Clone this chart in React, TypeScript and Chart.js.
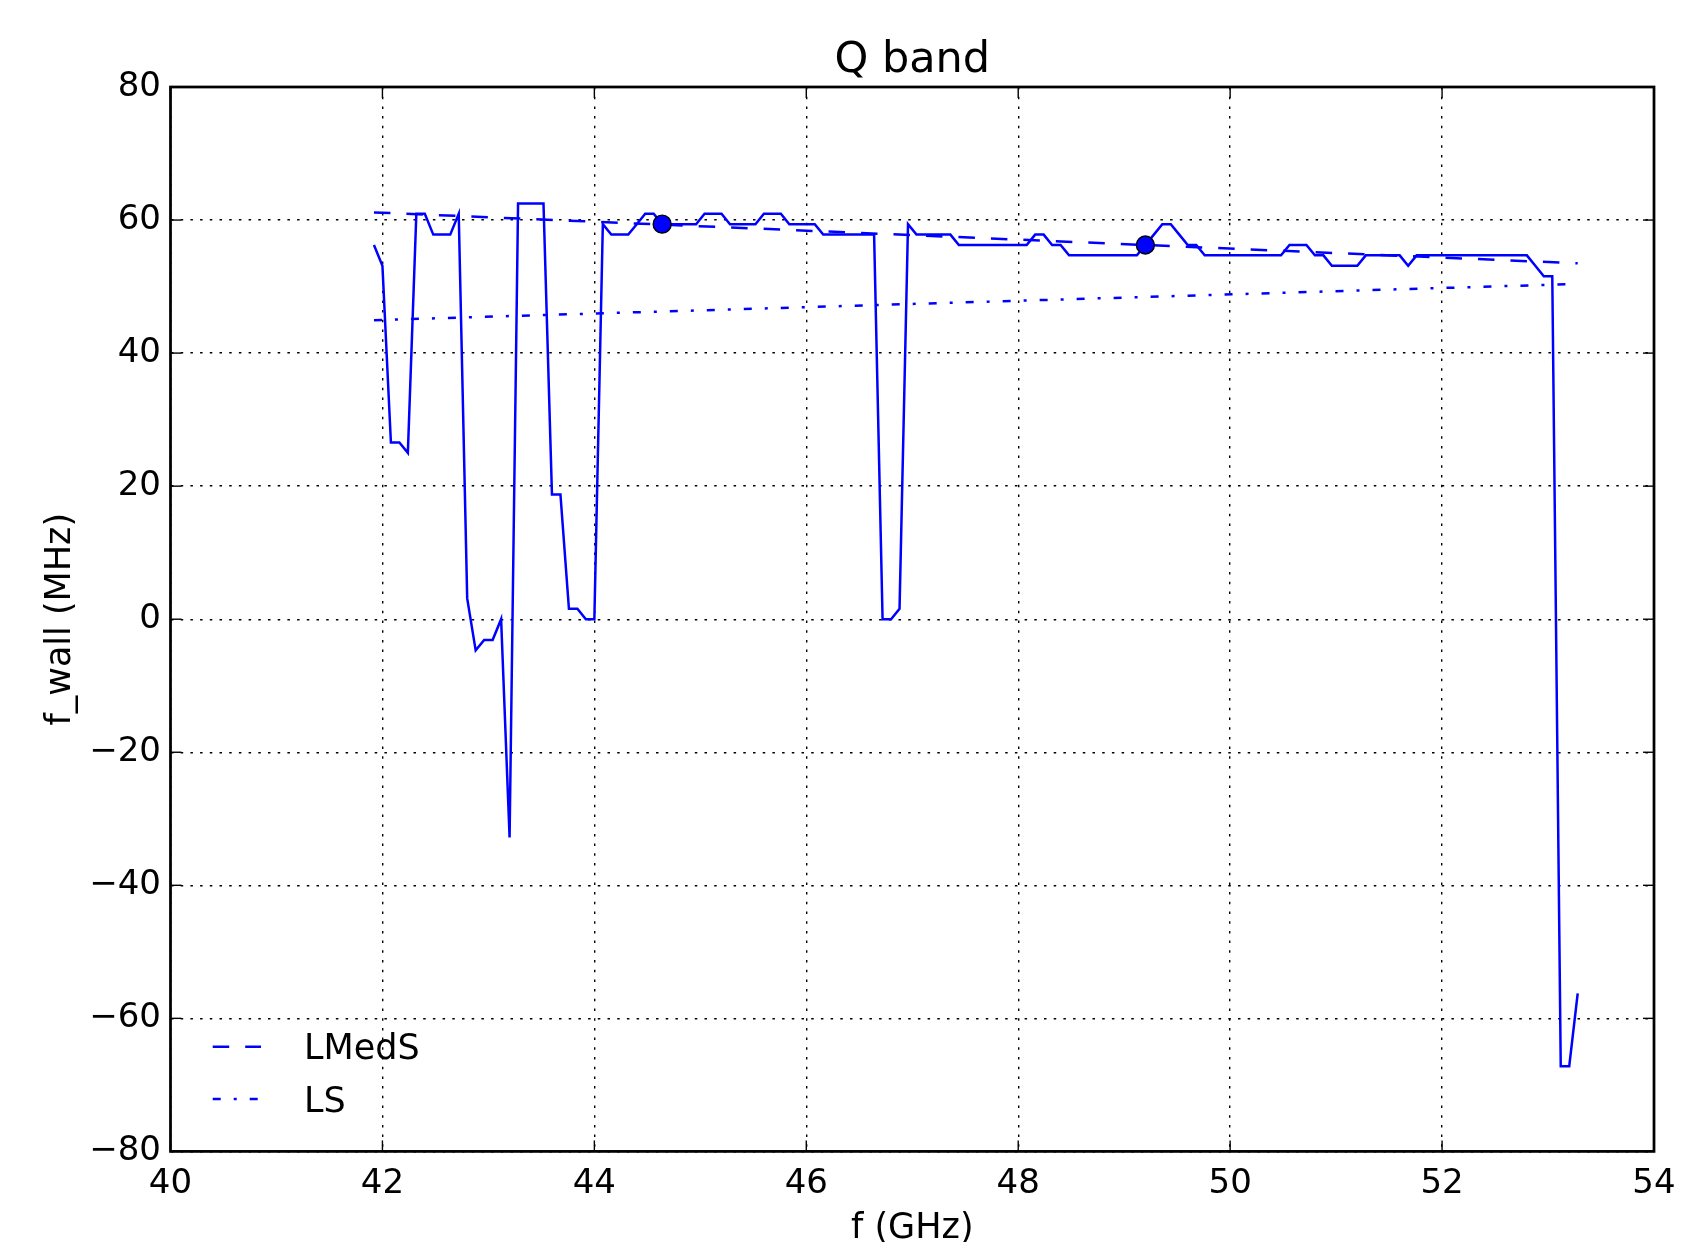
import React, { useEffect, useRef } from "react";
import { Chart, registerables } from "chart.js";

Chart.register(...registerables);

// ---------------- data ----------------
const freqGHz = [
  41.92, 42.0, 42.08, 42.16, 42.24, 42.32, 42.4, 42.48, 42.56, 42.64,
  42.72, 42.8, 42.88, 42.96, 43.04, 43.12, 43.2, 43.28, 43.36, 43.44,
  43.52, 43.6, 43.68, 43.76, 43.84, 43.92, 44.0, 44.08, 44.16, 44.24,
  44.32, 44.4, 44.48, 44.56, 44.64, 44.72, 44.8, 44.88, 44.96, 45.04,
  45.12, 45.2, 45.28, 45.36, 45.44, 45.52, 45.6, 45.68, 45.76, 45.84,
  45.92, 46.0, 46.08, 46.16, 46.24, 46.32, 46.4, 46.48, 46.56, 46.64,
  46.72, 46.8, 46.88, 46.96, 47.04, 47.12, 47.2, 47.28, 47.36, 47.44,
  47.52, 47.6, 47.68, 47.76, 47.84, 47.92, 48.0, 48.08, 48.16, 48.24,
  48.32, 48.4, 48.48, 48.56, 48.64, 48.72, 48.8, 48.88, 48.96, 49.04,
  49.12, 49.2, 49.28, 49.36, 49.44, 49.52, 49.6, 49.68, 49.76, 49.84,
  49.92, 50.0, 50.08, 50.16, 50.24, 50.32, 50.4, 50.48, 50.56, 50.64,
  50.72, 50.8, 50.88, 50.96, 51.04, 51.12, 51.2, 51.28, 51.36, 51.44,
  51.52, 51.6, 51.68, 51.76, 51.84, 51.92, 52.0, 52.08, 52.16, 52.24,
  52.32, 52.4, 52.48, 52.56, 52.64, 52.72, 52.8, 52.88, 52.96, 53.04,
  53.12, 53.2, 53.28,
];

const fWallMHz = [
  56.25, 53.13, 26.56, 26.56, 25.0, 60.94, 60.94, 57.81, 57.81, 57.81,
  60.94, 3.13, -4.69, -3.13, -3.13, 0, -32.81, 62.5, 62.5, 62.5,
  62.5, 18.75, 18.75, 1.56, 1.56, 0, 0, 59.38, 57.81, 57.81,
  57.81, 59.38, 60.94, 60.94, 59.38, 59.38, 59.38, 59.38, 59.38, 60.94,
  60.94, 60.94, 59.38, 59.38, 59.38, 59.38, 60.94, 60.94, 60.94, 59.38,
  59.38, 59.38, 59.38, 57.81, 57.81, 57.81, 57.81, 57.81, 57.81, 57.81,
  0, 0, 1.56, 59.38, 57.81, 57.81, 57.81, 57.81, 57.81, 56.25,
  56.25, 56.25, 56.25, 56.25, 56.25, 56.25, 56.25, 56.25, 57.81, 57.81,
  56.25, 56.25, 54.69, 54.69, 54.69, 54.69, 54.69, 54.69, 54.69, 54.69,
  54.69, 56.25, 57.81, 59.38, 59.38, 57.81, 56.25, 56.25, 54.69, 54.69,
  54.69, 54.69, 54.69, 54.69, 54.69, 54.69, 54.69, 54.69, 56.25, 56.25,
  56.25, 54.69, 54.69, 53.13, 53.13, 53.13, 53.13, 54.69, 54.69, 54.69,
  54.69, 54.69, 53.13, 54.69, 54.69, 54.69, 54.69, 54.69, 54.69, 54.69,
  54.69, 54.69, 54.69, 54.69, 54.69, 54.69, 54.69, 53.13, 51.56, 51.56,
  -67.19, -67.19, -56.25,
];

const markerFreqGHz = [44.64, 49.2];
const markerFWallMHz = [59.38, 56.25];

const lmedsFreqGHz = [41.92, 53.28];
const lmedsFWallMHz = [61.15, 53.5];

const lsFreqGHz = [41.92, 53.28];
const lsFWallMHz = [44.95, 50.4];

const xMin = 40;
const xMax = 54;
const xStep = 2;
const yMin = -80;
const yMax = 80;
const yStep = 20;

const titleText = "Q band";
const xLabelText = "f (GHz)";
const yLabelText = "f_wall (MHz)";
const legendLabels = ["LMedS", "LS"];

// ---------------- styling ----------------
const W = 1681;
const H = 1242;
const FONT = '"DejaVu Sans", sans-serif';
const BLUE = "#0000ff";
const TICK_FONT = 34;
const LABEL_FONT = 35;
const TITLE_FONT = 43;
const DASHED = [16.5, 16];
const DASHDOT = [8, 13, 3, 13];

const toPts = (xs: number[], ys: number[]) => xs.map((x, i) => ({ x, y: ys[i] }));
const fmt = (v: number | string) => String(v).replace("-", "\u2212");

export default function App() {
  const ref = useRef<HTMLCanvasElement>(null);

  useEffect(() => {
    document.body.style.margin = "0";
    document.body.style.overflow = "hidden";
    const canvas = ref.current;
    if (!canvas) return;

    const decor = {
      id: "decor",
      afterDraw(chart: any) {
        const { ctx, chartArea: a, scales } = chart;
        const xs = scales.x;
        const ys = scales.y;
        ctx.save();
        ctx.setLineDash([]);
        ctx.strokeStyle = "#000";
        ctx.lineWidth = 1.4;
        const seg = (x1: number, y1: number, x2: number, y2: number) => {
          ctx.beginPath();
          ctx.moveTo(x1, y1);
          ctx.lineTo(x2, y2);
          ctx.stroke();
        };
        xs.ticks.forEach((t: any) => {
          const px = xs.getPixelForValue(t.value);
          seg(px, a.bottom, px, a.bottom - 11);
          seg(px, a.top, px, a.top + 11);
        });
        ys.ticks.forEach((t: any) => {
          const py = ys.getPixelForValue(t.value);
          seg(a.left, py, a.left + 11, py);
          seg(a.right, py, a.right - 11, py);
        });
        // frame
        ctx.lineWidth = 2.75;
        ctx.strokeRect(a.left, a.top, a.right - a.left, a.bottom - a.top);

        // title and axis labels
        ctx.fillStyle = "#000";
        ctx.textAlign = "center";
        ctx.textBaseline = "alphabetic";
        ctx.font = `${TITLE_FONT}px ${FONT}`;
        const cx = (a.left + a.right) / 2;
        ctx.fillText(titleText, cx, 71.7);
        ctx.font = `${LABEL_FONT}px ${FONT}`;
        ctx.fillText(xLabelText, cx, 1238);
        ctx.save();
        ctx.translate(70, (a.top + a.bottom) / 2);
        ctx.rotate(-Math.PI / 2);
        ctx.fillText(yLabelText, 0, 0);
        ctx.restore();

        // legend (no frame)
        const rows = [
          { label: legendLabels[0], dash: DASHED, y: 1046.7, base: 1059 },
          { label: legendLabels[1], dash: DASHDOT, y: 1099, base: 1112 },
        ];
        rows.forEach((r) => {
          ctx.strokeStyle = BLUE;
          ctx.lineWidth = 2.5;
          ctx.setLineDash(r.dash);
          seg(212.7, r.y, 261, r.y);
          ctx.setLineDash([]);
          ctx.fillStyle = "#000";
          ctx.textAlign = "left";
          ctx.font = `${LABEL_FONT}px ${FONT}`;
          ctx.fillText(r.label, 304, r.base);
        });
        ctx.restore();
      },
    };

    const axisCommon = {
      type: "linear" as const,
      grid: { color: "#000", lineWidth: 1.4, drawTicks: false },
      border: { display: false, dash: [2.5, 7.2] },
    };

    const chart = new Chart(canvas, {
      type: "line",
      data: {
        datasets: [
          {
            label: "markers",
            data: toPts(markerFreqGHz, markerFWallMHz),
            showLine: false,
            pointRadius: 9,
            pointBackgroundColor: BLUE,
            pointBorderColor: "#000",
            pointBorderWidth: 1.4,
            order: 0,
          } as any,
          {
            label: "f_wall",
            data: toPts(freqGHz, fWallMHz),
            borderColor: BLUE,
            borderWidth: 2.5,
            pointRadius: 0,
            tension: 0,
            order: 1,
          },
          {
            label: legendLabels[0],
            data: toPts(lmedsFreqGHz, lmedsFWallMHz),
            borderColor: BLUE,
            borderWidth: 2.5,
            borderDash: DASHED,
            pointRadius: 0,
            order: 2,
          },
          {
            label: legendLabels[1],
            data: toPts(lsFreqGHz, lsFWallMHz),
            borderColor: BLUE,
            borderWidth: 2.5,
            borderDash: DASHDOT,
            pointRadius: 0,
            order: 3,
          },
        ],
      },
      options: {
        responsive: false,
        devicePixelRatio: 1,
        animation: false,
        events: [],
        layout: { padding: { top: 87, right: 27, left: 0, bottom: 0 } },
        plugins: {
          legend: { display: false },
          tooltip: { enabled: false },
          title: { display: false },
        },
        scales: {
          x: {
            ...axisCommon,
            min: xMin,
            max: xMax,
            ticks: {
              stepSize: xStep,
              padding: 12,
              autoSkip: false,
              maxRotation: 0,
              color: "#000",
              font: { family: FONT, size: TICK_FONT },
              callback: (v: any) => fmt(v),
            },
            afterFit: (s: any) => {
              s.height = 90.6;
              s.paddingLeft = 0;
              s.paddingRight = 0;
            },
          },
          y: {
            ...axisCommon,
            min: yMin,
            max: yMax,
            ticks: {
              stepSize: yStep,
              padding: 9.5,
              color: "#000",
              font: { family: FONT, size: TICK_FONT },
              callback: (v: any) => fmt(v),
            },
            afterFit: (s: any) => {
              s.width = 170.5;
              s.paddingTop = 0;
              s.paddingBottom = 0;
            },
          },
        },
      } as any,
      plugins: [decor],
    });

    return () => chart.destroy();
  }, []);

  return (
    <div style={{ position: "absolute", left: 0, top: 0, width: W, height: H }}>
      <canvas ref={ref} width={W} height={H} style={{ width: W, height: H, display: "block" }} />
    </div>
  );
}
